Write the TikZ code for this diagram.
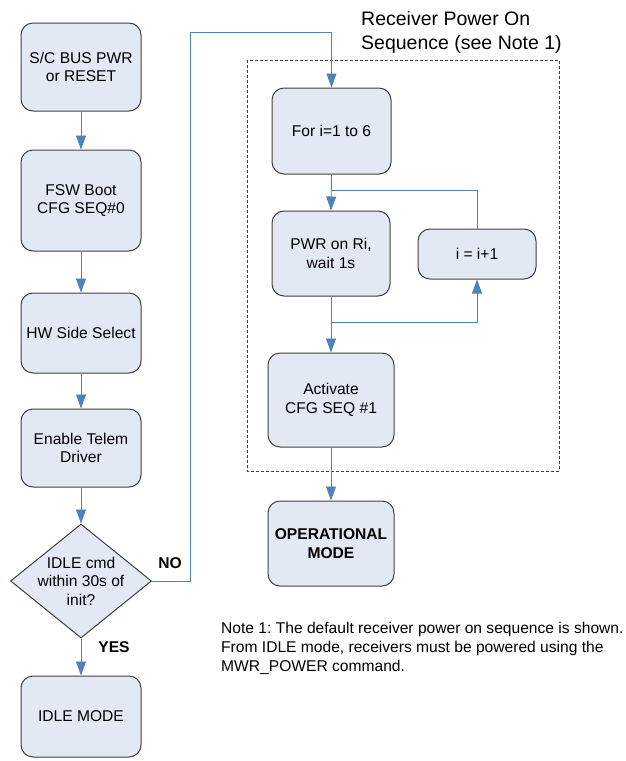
\documentclass[tikz,border=0pt]{standalone}
\usepackage{fontspec}
\setmainfont{Liberation Sans}
\frenchspacing
\usetikzlibrary{positioning,calc,arrows.meta,shapes.geometric}
\definecolor{boxfill}{RGB}{227,233,244}
\definecolor{boxline}{RGB}{64,64,64}
\definecolor{flowblue}{RGB}{79,129,189}
\tikzset{>={Triangle[length=14pt,width=10pt]},
  proc/.style={draw=boxline,fill=boxfill,line width=1pt,rounded corners=12pt,
    align=center,inner sep=2pt,font=\fontsize{15.6}{18.5}\selectfont},
  decide/.style={draw=boxline,fill=boxfill,line width=1pt,diamond,inner sep=0pt},
  flow/.style={draw=flowblue,line width=0.9pt,->},
  link/.style={draw=flowblue,line width=0.9pt},
  tag/.style={font=\fontsize{15.6}{18.5}\selectfont\bfseries}}

\begin{document}
\begin{tikzpicture}[x=1pt,y=-1pt]
\useasboundingbox (0,0) rectangle (626,761);
% left column
\node[proc,minimum width=120pt,minimum height=88pt] (bus) at (81,67) {S/C BUS PWR\\or RESET};
\node[proc,minimum width=120pt,minimum height=101pt] (boot) at (81,200.5) {FSW Boot\\CFG SEQ\#0};
\node[proc,minimum width=120pt,minimum height=80pt] (side) at (81,333) {HW Side Select};
\node[proc,minimum width=120pt,minimum height=78pt] (telem) at (81,448) {Enable Telem\\Driver};
\node[decide,minimum width=141pt,minimum height=114pt] (dec) at (81,581) {};
\node[align=center,font=\fontsize{15.6}{18.5}\selectfont] (dectext) at (dec) {IDLE cmd\\within 30s of\\init?};
\node[proc,minimum width=120pt,minimum height=81pt] (idle) at (81,716.5) {IDLE MODE};
\node[tag] (no) at (170,563) {NO};
\node[tag] (yes) at (114,647) {YES};
% receiver power on sequence
\draw[boxline,line width=0.8pt,dash pattern=on 3pt off 2pt] (247,60) rectangle (559,471);
\node[anchor=north west,align=left,inner sep=0pt,font=\fontsize{19.5}{24}\selectfont] (title) at (361,11) {Receiver Power On\\Sequence (see Note 1)};
\node[proc,minimum width=119pt,minimum height=86pt] (fori) at (331.5,131) {For i=1 to 6};
\node[proc,minimum width=118pt,minimum height=85pt] (pwr) at (331,253.5) {PWR on Ri,\\wait 1s};
\node[proc,minimum width=118pt,minimum height=50pt] (inc) at (477,254) {i = i+1};
\node[proc,minimum width=126pt,minimum height=94pt] (act) at (331,400) {Activate\\CFG SEQ \#1};
\node[proc,minimum width=126pt,minimum height=85pt,font=\fontsize{15.6}{18.5}\selectfont\bfseries] (oper) at (331,543.5) {OPERATIONAL\\MODE};
\node[anchor=north west,align=left,inner sep=0pt,font=\fontsize{15.6}{19}\selectfont] (note) at (221,622) {Note 1: The default receiver power on sequence is shown.\\From IDLE mode, receivers must be powered using the\\MWR\_POWER command.};
% connectors
\coordinate (nocorner) at (190,32);
\coordinate (loopin) at (331,190);
\coordinate (loopout) at (331,322);
\draw[flow] (bus) -- (boot);
\draw[flow] (boot) -- (side);
\draw[flow] (side) -- (telem);
\draw[flow] (telem) -- (dec.north);
\draw[flow] (dec.south) -- (idle);
\draw[flow] (dec.east) -| (nocorner) -| (fori.north);
\draw[flow] (fori.south) -- (pwr.north);
\draw[link] (inc.north) |- (loopin);
\draw[flow] (pwr.south) -- (act.north);
\draw[flow] (loopout) -| (inc.south);
\draw[flow] (act.south) -- (oper.north);
\end{tikzpicture}
\end{document}
